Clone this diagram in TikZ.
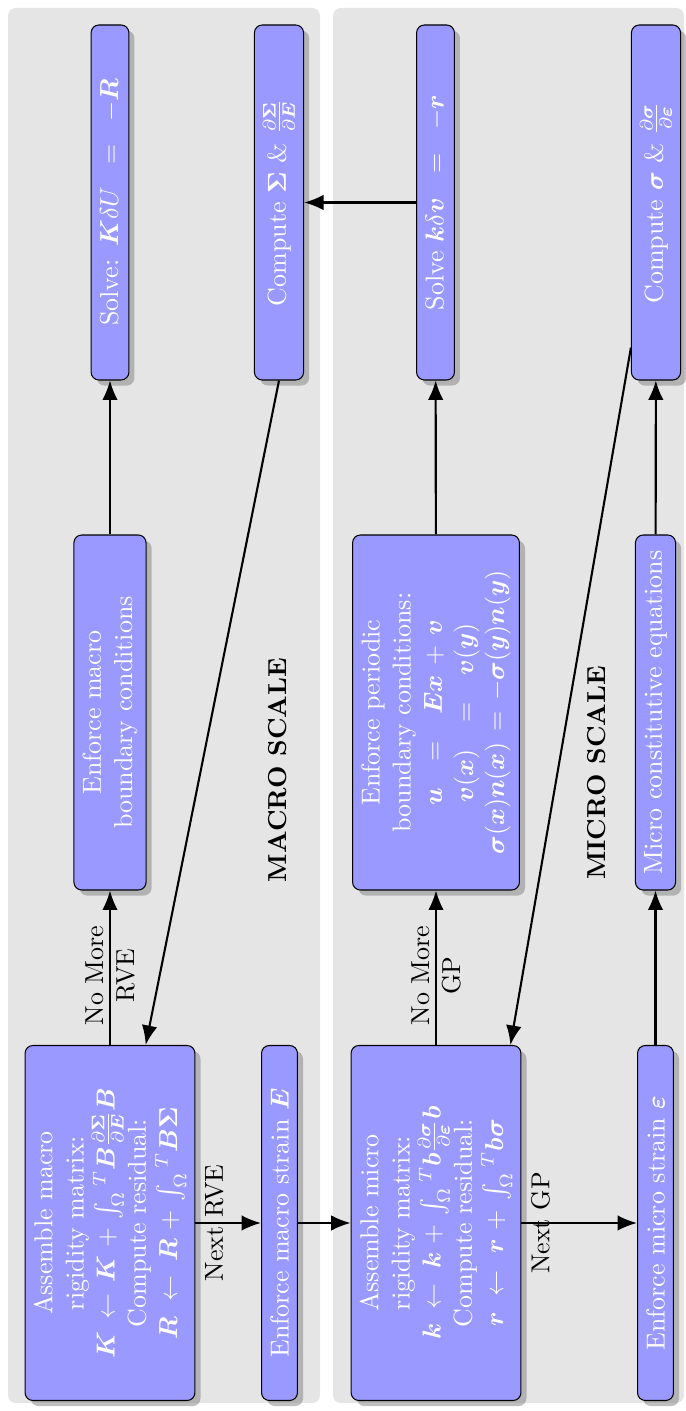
\documentclass[tikz,border=0pt]{standalone}
\usepackage{amsmath}
\usepackage{bm}
\usepackage{tikz}
\usetikzlibrary{arrows.meta}
\usetikzlibrary{positioning}
\usetikzlibrary{calc}
\usetikzlibrary{shadows}
\tikzset{basic box/.style={draw=black,
                           fill=blue!40,
                           text=white,
                           rounded corners=3pt,
                           drop shadow,
                           align=center}}
\tikzset{stage box/.style={basic box,text width=130pt}}
\tikzset{flow/.style={draw,
                      thick,
                      -{Latex[length=7.5pt,width=6pt]}}}
\tikzset{scale panel/.style={fill=black!10,
                             rounded corners=3pt}}
\newcommand{\INTO}{\int_\Omega{}^T}

\begin{document}
\begin{tikzpicture}
      [
      rotate=90,transform shape,
      x=0.385pt,y=0.385pt,
      ]

      \useasboundingbox (0,0) rectangle (1411,-685);

      % panels
      \path [scale panel] (8,-8) rectangle (1403,-320);
      \path [scale panel] (8,-333) rectangle (1403,-684);

      % macro scale
      \node [stage box] (assembleMacro) at (188,-110)
      {Assemble macro\\ rigidity matrix:\\
      $\bm K\leftarrow\bm K+\INTO\bm B\frac{\partial\bm\Sigma}{\partial\bm E}\bm B$\\
      Compute residual:\\
      $\bm R\leftarrow\bm R+\INTO\bm B\bm\Sigma$};
      \node [stage box] (enforceE) at (188,-279.5) {Enforce macro strain $\bm E$};
      \node [stage box] (macroBC) at (698.5,-110) {Enforce macro\\ boundary conditions};
      \node [stage box] (solveMacro) at (1208.5,-110) {Solve: $\bm K\delta U\ =\ -\bm R$};
      \node [stage box] (sigmaMacro) at (1208.5,-279)
      {Compute $\bm\Sigma$ \& $\frac{\partial\bm\Sigma}{\partial\bm E}$};
      \node [font=\bfseries] (macroTitle) at (641,-278) {MACRO SCALE};

      % micro scale
      \node [stage box] (assembleMicro) at (188,-436)
      {Assemble micro\\ rigidity matrix:\\
      $\bm k\leftarrow\bm k+\INTO\bm b\frac{\partial\bm\sigma}{\partial\bm\varepsilon}\bm b$\\
      Compute residual:\\
      $\bm r\leftarrow\bm r+\INTO\bm b\bm\sigma$};
      \node [stage box] (enforceEps) at (188,-655.5) {Enforce micro strain $\bm\varepsilon$};
      \node [stage box] (periodicBC) at (698.5,-436)
      {Enforce periodic\\ boundary conditions:\\
      $\bm u\ =\ \bm E\bm x+\bm v$\\
      $\bm v(\bm x)\ =\ \bm v(\bm y)$\\
      $\bm\sigma(\bm x)\bm n(\bm x)=-\bm\sigma(\bm y)\bm n(\bm y)$};
      \node [stage box] (constitutive) at (698.5,-655.5) {Micro constitutive equations};
      \node [stage box] (solveMicro) at (1208.5,-435.5) {Solve $\bm k\delta\bm v\ =\ -\bm r$};
      \node [stage box] (sigmaMicro) at (1208.5,-656)
      {Compute $\bm\sigma$ \& $\frac{\partial\bm\sigma}{\partial\bm\varepsilon}$};
      \node [font=\bfseries] (microTitle) at (638,-597) {MICRO SCALE};

      % edges
      \path [flow] (assembleMacro) -- node [pos=.45,align=center] {No More\\RVE} (macroBC);
      \path [flow] (macroBC) -- (solveMacro);
      \path [flow] (sigmaMacro.west) -- (assembleMacro);
      \path [flow] (assembleMacro) -- node [pos=0,below] {Next RVE} (enforceE);
      \path [flow] (enforceE) -- (assembleMicro);

      \path [flow] (assembleMicro) -- node [pos=.45,align=center] {No More\\GP} (periodicBC);
      \path [flow] (periodicBC) -- (solveMicro);
      \path [flow] (solveMicro) -- (sigmaMacro);
      \path [flow] (assembleMicro) -- node [pos=0,below] {Next GP} (enforceEps);
      \path [flow] (enforceEps) -- (constitutive);
      \path [flow] (constitutive) -- (sigmaMicro);
      \path [flow] (sigmaMicro) -- ($(assembleMicro.south east)+(0,11)$);

    \end{tikzpicture}
\end{document}
